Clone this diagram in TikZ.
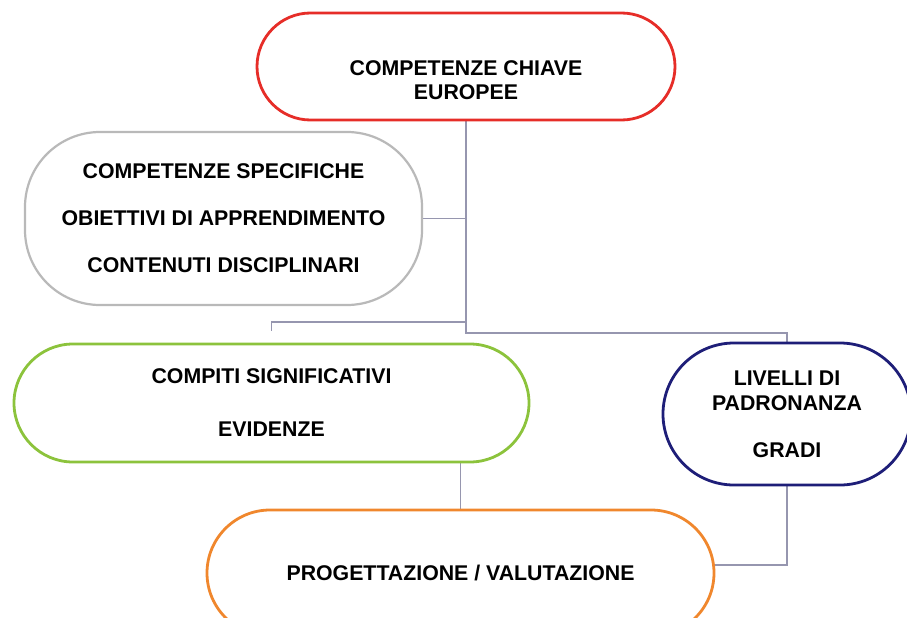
\documentclass[tikz,border=0pt]{standalone}
\usepackage{fontspec}
\setmainfont{Liberation Sans}
\usetikzlibrary{backgrounds}
\definecolor{redc}{RGB}{230,45,40}
\definecolor{grayc}{RGB}{185,185,185}
\definecolor{greenc}{RGB}{140,195,60}
\definecolor{bluec}{RGB}{30,30,120}
\definecolor{orangec}{RGB}{240,135,45}
\definecolor{linkc}{RGB}{150,150,175}
\begin{document}
\begin{tikzpicture}[x=1pt,y=-1pt,
  box/.style={draw, line width=2.8pt, rounded corners=#1, inner sep=0pt, align=center,
    font=\bfseries\fontsize{21.3}{24}\selectfont, fill=white},
  txt/.style={align=center, inner sep=0pt, font=\bfseries\fontsize{21.3}{24}\selectfont},
  link/.style={draw=linkc, line width=1.4pt}
]
\useasboundingbox (0,0) rectangle (907,618);

\node[box=53.5pt, draw=redc, minimum width=418pt, minimum height=107pt] (red) at (466,66.5) {};
\node[txt] (redtext) at (466,80) {COMPETENZE CHIAVE\\EUROPEE};

\node[box=75pt, draw=grayc, line width=2.2pt, minimum width=397pt, minimum height=173pt,
  font=\bfseries\fontsize{21.3}{47}\selectfont] (gray) at (223.5,218.5)
  {COMPETENZE SPECIFICHE\\OBIETTIVI DI APPRENDIMENTO\\CONTENUTI DISCIPLINARI};

\node[box=59pt, draw=greenc, minimum width=515pt, minimum height=118pt,
  font=\bfseries\fontsize{21.3}{53}\selectfont] (green) at (271.5,403)
  {COMPITI SIGNIFICATIVI\\EVIDENZE};

\node[box=71pt, draw=bluec, minimum width=248pt, minimum height=142pt,
  font=\bfseries\fontsize{21.3}{25}\selectfont] (blue) at (787,414)
  {LIVELLI DI\\PADRONANZA\\[22pt]GRADI};

\node[box=63pt, draw=orangec, minimum width=507pt, minimum height=126pt] (orange) at (460.5,573)
  {PROGETTAZIONE / VALUTAZIONE};

\coordinate (jg) at (271.5,331);

\begin{pgfonlayer}{background}
\draw[link] (red.south) -- (red.south |- 0,333) -| (blue.north);
\draw[link] (gray.east) -- (gray.east -| red.south);
\draw[link] (red.south |- 0,322) -| (jg);
\draw[link] (green.south -| orange.north) -- (orange.north);
\draw[link] ([yshift=8pt]orange.east) -| (blue.south);
\end{pgfonlayer}
\end{tikzpicture}
\end{document}
